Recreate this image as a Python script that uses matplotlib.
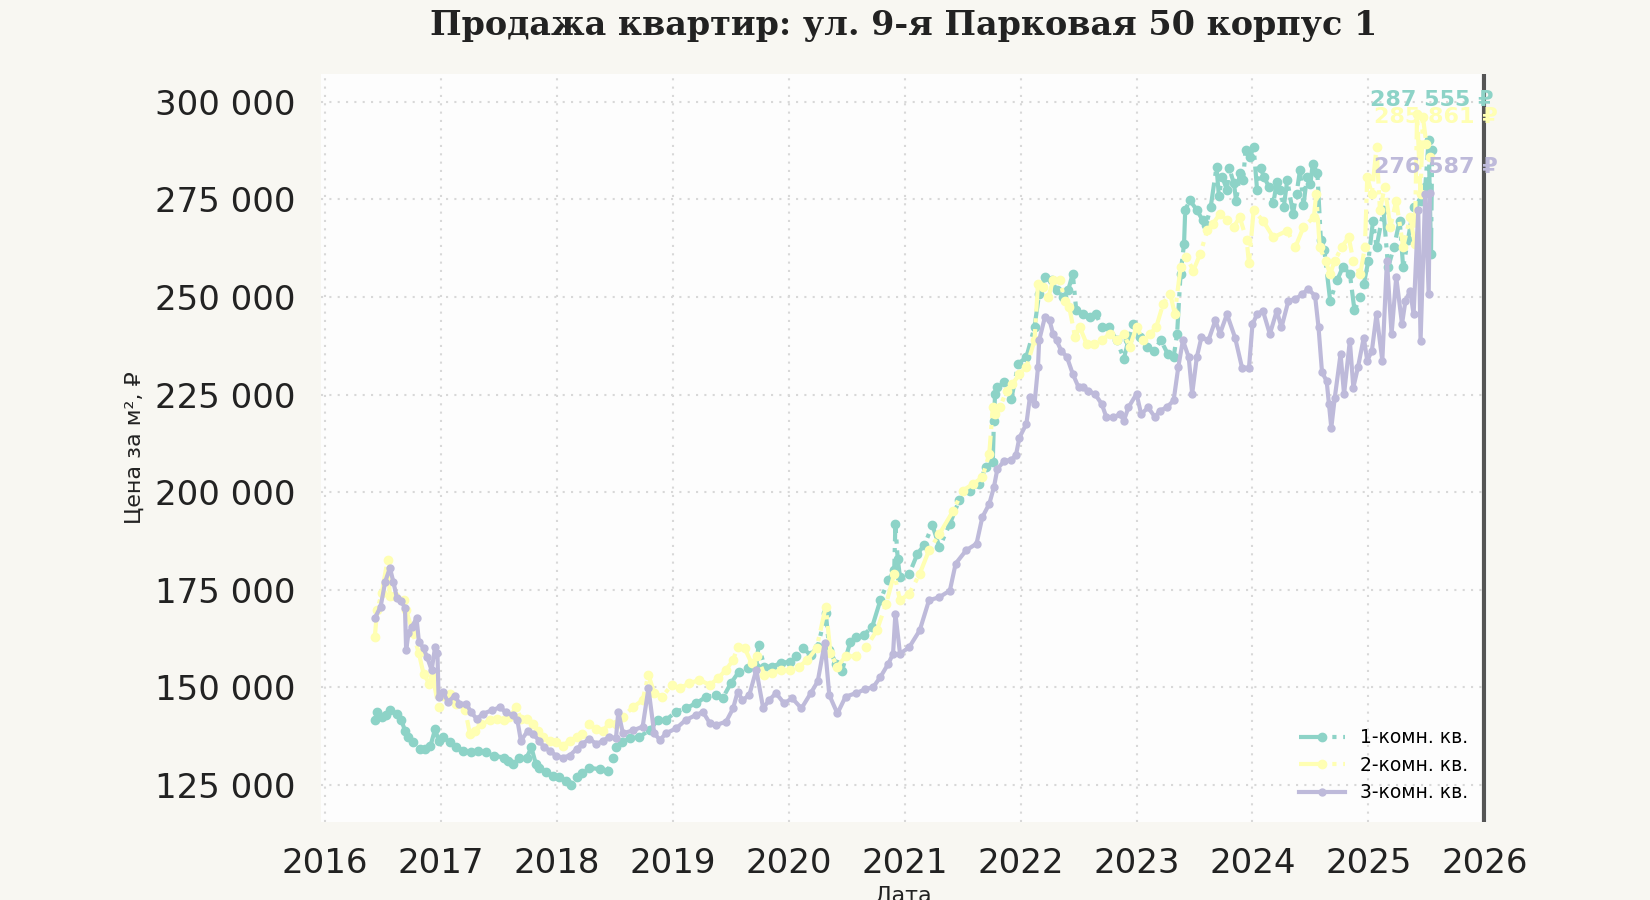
#############################
# import ####################
#############################

import matplotlib
matplotlib.use('Agg')
import matplotlib.pyplot as plt
import numpy as np
from matplotlib.ticker import FuncFormatter

#############################
# data (price, thousand rub) #
#############################

t1 = [2016.43, 2016.45, 2016.49, 2016.53, 2016.56, 2016.62, 2016.66, 2016.69, 2016.72, 2016.76,
      2016.82, 2016.86, 2016.91, 2016.95, 2016.98, 2017.02, 2017.08, 2017.13, 2017.19, 2017.26,
      2017.32, 2017.39, 2017.46, 2017.54, 2017.58, 2017.62, 2017.67, 2017.74, 2017.78, 2017.82,
      2017.85, 2017.91, 2017.97, 2018.02, 2018.08, 2018.12, 2018.17, 2018.22, 2018.28, 2018.37,
      2018.44, 2018.48, 2018.51, 2018.56, 2018.63, 2018.71, 2018.80, 2018.87, 2018.94, 2019.03,
      2019.11, 2019.20, 2019.29, 2019.37, 2019.43, 2019.50, 2019.57, 2019.65, 2019.72, 2019.74,
      2019.79, 2019.86, 2019.93, 2020.01, 2020.06, 2020.12, 2020.19, 2020.25, 2020.32, 2020.35,
      2020.41, 2020.46, 2020.53, 2020.58, 2020.65, 2020.72, 2020.79, 2020.86, 2020.91, 2020.92,
      2020.94, 2020.96, 2021.04, 2021.11, 2021.17, 2021.24, 2021.30, 2021.39, 2021.47, 2021.56,
      2021.64, 2021.70, 2021.76, 2021.77, 2021.78, 2021.80, 2021.86, 2021.92, 2021.98, 2022.05,
      2022.12, 2022.16, 2022.21, 2022.27, 2022.31, 2022.37, 2022.41, 2022.45, 2022.48, 2022.54,
      2022.60, 2022.65, 2022.70, 2022.76, 2022.83, 2022.89, 2022.93, 2022.97, 2023.03, 2023.09,
      2023.15, 2023.21, 2023.27, 2023.32, 2023.35, 2023.38, 2023.41, 2023.42, 2023.46, 2023.52,
      2023.57, 2023.60, 2023.64, 2023.69, 2023.71, 2023.74, 2023.78, 2023.80, 2023.84, 2023.86,
      2023.89, 2023.92, 2023.94, 2023.98, 2024.01, 2024.04, 2024.07, 2024.10, 2024.14, 2024.18,
      2024.21, 2024.24, 2024.27, 2024.30, 2024.35, 2024.38, 2024.41, 2024.44, 2024.47, 2024.50,
      2024.52, 2024.56, 2024.59, 2024.62, 2024.67, 2024.73, 2024.78, 2024.84, 2024.88, 2024.93,
      2024.96, 2025.00, 2025.04, 2025.07, 2025.13, 2025.17, 2025.22, 2025.27, 2025.30, 2025.34,
      2025.39, 2025.45, 2025.49, 2025.52, 2025.54, 2025.55]
p1 = [141.5, 143.6, 142.3, 143.0, 144.1, 143.2, 141.5, 138.9, 137.2, 135.9,
      134.2, 134.2, 135.0, 139.3, 136.3, 137.2, 135.9, 134.6, 133.8, 133.3,
      133.8, 133.3, 132.5, 132.0, 131.0, 130.3, 132.0, 132.0, 134.6, 130.3,
      129.4, 128.2, 127.3, 126.9, 126.0, 125.0, 126.9, 128.0, 129.4, 129.0,
      128.6, 132.0, 134.6, 136.0, 136.9, 137.3, 139.0, 141.6, 141.6, 143.8,
      144.6, 145.9, 147.6, 148.0, 147.2, 151.0, 154.0, 154.9, 155.3, 160.9,
      155.3, 155.3, 156.2, 156.6, 157.9, 160.0, 158.3, 160.4, 169.0, 159.6,
      156.0, 154.3, 161.5, 163.0, 163.5, 165.5, 172.3, 177.4, 180.0, 191.9,
      183.0, 178.2, 179.1, 184.2, 186.5, 191.5, 185.9, 191.9, 197.9, 200.4,
      202.1, 206.4, 207.7, 218.3, 225.2, 226.9, 228.2, 223.9, 232.9, 234.6,
      242.3, 250.9, 255.1, 254.3, 251.7, 250.0, 251.7, 256.0, 246.6, 245.7,
      244.9, 245.7, 242.3, 242.3, 238.9, 234.2, 238.9, 243.2, 239.7, 237.2,
      236.3, 238.9, 235.4, 234.6, 240.6, 256.0, 263.7, 272.3, 274.8, 272.3,
      269.7, 268.5, 273.1, 283.4, 276.0, 280.8, 277.4, 283.0, 279.1, 274.5,
      281.7, 280.0, 287.7, 286.0, 288.5, 277.4, 283.0, 280.8, 278.3, 274.0,
      279.5, 277.4, 273.0, 280.0, 271.4, 276.5, 282.5, 273.5, 280.8, 279.0,
      284.2, 281.7, 264.6, 262.0, 249.1, 254.3, 257.7, 256.0, 246.6, 250.0,
      253.3, 259.3, 269.6, 262.8, 272.2, 257.6, 262.8, 269.6, 257.6, 264.5,
      273.0, 274.7, 278.2, 290.2, 261.1, 287.555]

t2 = [2016.43, 2016.45, 2016.49, 2016.54, 2016.56, 2016.60, 2016.68, 2016.70, 2016.76, 2016.81,
      2016.85, 2016.90, 2016.93, 2016.98, 2017.02, 2017.08, 2017.13, 2017.21, 2017.25, 2017.29,
      2017.35, 2017.42, 2017.48, 2017.54, 2017.59, 2017.65, 2017.69, 2017.74, 2017.79, 2017.84,
      2017.88, 2017.94, 2017.99, 2018.05, 2018.11, 2018.17, 2018.22, 2018.28, 2018.34, 2018.40,
      2018.45, 2018.51, 2018.57, 2018.66, 2018.74, 2018.79, 2018.84, 2018.91, 2018.99, 2019.06,
      2019.14, 2019.23, 2019.32, 2019.39, 2019.46, 2019.52, 2019.56, 2019.62, 2019.68, 2019.73,
      2019.79, 2019.86, 2019.93, 2020.01, 2020.09, 2020.16, 2020.24, 2020.32, 2020.36, 2020.42,
      2020.49, 2020.58, 2020.67, 2020.76, 2020.84, 2020.91, 2020.96, 2021.04, 2021.13, 2021.21,
      2021.30, 2021.42, 2021.50, 2021.59, 2021.67, 2021.73, 2021.76, 2021.78, 2021.82, 2021.88,
      2021.93, 2021.99, 2022.05, 2022.12, 2022.15, 2022.19, 2022.24, 2022.28, 2022.34, 2022.38,
      2022.42, 2022.47, 2022.51, 2022.57, 2022.63, 2022.70, 2022.77, 2022.83, 2022.89, 2022.94,
      2023.00, 2023.06, 2023.12, 2023.17, 2023.23, 2023.29, 2023.33, 2023.38, 2023.43, 2023.49,
      2023.55, 2023.61, 2023.66, 2023.72, 2023.78, 2023.84, 2023.89, 2023.95, 2023.97, 2024.01,
      2024.09, 2024.18, 2024.30, 2024.37, 2024.44, 2024.53, 2024.55, 2024.58, 2024.63, 2024.67,
      2024.71, 2024.77, 2024.83, 2024.87, 2024.93, 2024.97, 2024.99, 2025.03, 2025.07, 2025.10,
      2025.14, 2025.19, 2025.24, 2025.30, 2025.36, 2025.40, 2025.42, 2025.45, 2025.47, 2025.50,
      2025.53]
p2 = [163.0, 169.8, 174.1, 182.7, 173.3, 173.3, 172.4, 169.8, 163.8, 158.7,
      153.5, 150.9, 152.7, 144.9, 147.9, 148.4, 145.8, 144.1, 138.1, 138.9,
      140.6, 141.5, 141.9, 141.5, 142.3, 144.9, 141.9, 141.9, 140.6, 138.9,
      137.2, 136.3, 135.9, 135.0, 136.3, 137.2, 138.1, 140.6, 139.3, 138.9,
      140.8, 140.6, 142.5, 145.0, 146.7, 153.2, 148.5, 147.6, 150.6, 149.7,
      151.0, 151.9, 150.6, 152.3, 154.5, 157.0, 160.4, 160.0, 156.2, 157.9,
      153.2, 153.6, 154.5, 154.5, 155.3, 157.0, 160.0, 170.7, 158.7, 155.3,
      157.9, 158.0, 160.3, 164.6, 171.4, 179.1, 172.3, 174.0, 179.1, 185.1,
      189.3, 195.3, 200.4, 202.1, 203.8, 209.8, 221.8, 220.0, 221.7, 226.0,
      227.7, 230.3, 232.0, 238.9, 253.4, 252.6, 250.0, 254.3, 254.3, 249.1,
      247.4, 239.7, 242.3, 238.0, 238.0, 238.9, 240.6, 238.9, 240.6, 237.2,
      242.3, 238.9, 240.6, 242.3, 248.3, 250.9, 245.7, 257.7, 260.3, 256.8,
      261.1, 267.1, 268.8, 271.4, 269.7, 268.0, 270.5, 264.6, 258.6, 272.2,
      269.6, 265.3, 267.0, 262.8, 267.9, 270.5, 276.5, 262.8, 259.3, 255.9,
      259.3, 262.8, 265.3, 259.3, 255.9, 262.8, 280.7, 276.5, 288.4, 272.2,
      278.2, 268.0, 274.7, 262.8, 270.5, 263.7, 297.0, 276.5, 296.1, 289.3,
      285.861]

t3 = [2016.43, 2016.48, 2016.52, 2016.56, 2016.59, 2016.62, 2016.66, 2016.69, 2016.70, 2016.72,
      2016.75, 2016.79, 2016.81, 2016.85, 2016.88, 2016.92, 2016.95, 2016.97, 2016.98, 2017.02,
      2017.06, 2017.12, 2017.16, 2017.22, 2017.26, 2017.31, 2017.36, 2017.44, 2017.51, 2017.56,
      2017.62, 2017.66, 2017.69, 2017.75, 2017.79, 2017.85, 2017.89, 2017.94, 2017.99, 2018.05,
      2018.11, 2018.17, 2018.22, 2018.28, 2018.34, 2018.40, 2018.45, 2018.51, 2018.53, 2018.57,
      2018.66, 2018.74, 2018.79, 2018.84, 2018.89, 2018.94, 2019.03, 2019.11, 2019.20, 2019.26,
      2019.32, 2019.37, 2019.46, 2019.52, 2019.56, 2019.60, 2019.66, 2019.72, 2019.78, 2019.83,
      2019.89, 2019.96, 2020.03, 2020.11, 2020.19, 2020.25, 2020.31, 2020.35, 2020.42, 2020.49,
      2020.58, 2020.66, 2020.73, 2020.79, 2020.86, 2020.90, 2020.92, 2020.96, 2021.04, 2021.13,
      2021.21, 2021.30, 2021.39, 2021.44, 2021.53, 2021.62, 2021.67, 2021.73, 2021.77, 2021.80,
      2021.86, 2021.92, 2021.96, 2021.99, 2022.05, 2022.08, 2022.12, 2022.15, 2022.16, 2022.21,
      2022.25, 2022.28, 2022.31, 2022.35, 2022.40, 2022.45, 2022.50, 2022.54, 2022.58, 2022.64,
      2022.70, 2022.74, 2022.80, 2022.86, 2022.89, 2022.93, 2023.00, 2023.04, 2023.10, 2023.16,
      2023.20, 2023.26, 2023.32, 2023.36, 2023.40, 2023.45, 2023.48, 2023.52, 2023.56, 2023.62,
      2023.68, 2023.72, 2023.78, 2023.85, 2023.91, 2023.97, 2024.00, 2024.04, 2024.09, 2024.15,
      2024.21, 2024.25, 2024.31, 2024.37, 2024.43, 2024.48, 2024.54, 2024.57, 2024.60, 2024.64,
      2024.66, 2024.68, 2024.71, 2024.76, 2024.79, 2024.84, 2024.87, 2024.91, 2024.96, 2024.99,
      2025.03, 2025.07, 2025.12, 2025.16, 2025.20, 2025.24, 2025.29, 2025.32, 2025.36, 2025.39,
      2025.43, 2025.45, 2025.49, 2025.52, 2025.53]
p3 = [167.7, 170.7, 177.1, 180.6, 177.0, 172.9, 172.0, 170.3, 159.5, 163.8,
      165.5, 167.7, 161.7, 160.0, 157.8, 154.4, 160.4, 158.7, 147.5, 148.8,
      146.2, 147.9, 145.8, 145.8, 143.6, 141.9, 143.2, 144.1, 144.9, 143.6,
      142.8, 141.5, 136.3, 138.9, 138.1, 136.3, 134.6, 133.8, 132.5, 132.0,
      132.5, 134.2, 135.5, 136.8, 135.5, 136.3, 137.3, 137.0, 143.7, 138.2,
      139.0, 139.9, 149.7, 138.2, 136.5, 138.2, 139.5, 141.6, 142.9, 143.7,
      140.8, 140.3, 141.2, 144.6, 148.9, 146.7, 148.0, 154.5, 144.6, 146.7,
      148.5, 145.9, 147.2, 144.6, 148.5, 151.5, 161.3, 148.0, 143.3, 147.6,
      148.5, 149.5, 150.1, 152.6, 156.1, 158.6, 168.9, 158.6, 160.3, 164.6,
      172.3, 173.1, 174.8, 181.7, 185.1, 186.8, 193.6, 197.0, 201.3, 206.0,
      208.0, 208.3, 209.5, 214.0, 217.5, 224.3, 222.6, 232.0, 238.9, 244.9,
      244.0, 240.6, 238.9, 236.3, 234.6, 230.3, 226.9, 226.9, 226.0, 225.2,
      222.6, 219.2, 219.2, 220.0, 218.3, 221.7, 225.2, 220.0, 221.7, 219.2,
      220.9, 221.7, 223.5, 232.0, 238.9, 234.6, 225.2, 234.6, 239.7, 238.9,
      244.0, 240.6, 245.6, 239.6, 231.9, 231.9, 243.0, 245.6, 246.5, 240.5,
      246.5, 242.2, 249.0, 249.5, 250.7, 252.1, 250.3, 242.2, 230.7, 228.5,
      222.5, 216.5, 224.2, 235.4, 225.1, 238.8, 226.8, 232.0, 239.6, 233.7,
      236.2, 245.6, 233.7, 259.3, 240.5, 255.1, 243.1, 249.1, 251.6, 245.6,
      272.2, 238.8, 276.5, 250.8, 276.587]

labels = ['1-комн. кв.', '2-комн. кв.', '3-комн. кв.']
colors = ['#8dd3c7', '#ffffb3', '#bebada']
years = list(range(2016, 2027))
yticks = list(range(125000, 300001, 25000))

#############################
# figure ####################
#############################

plt.rc('font', family='DejaVu Sans')

fig = plt.figure(figsize=(16.5, 9), dpi=100)
fig.patch.set_facecolor('#f8f7f2')
ax = fig.add_axes([0.1945, 0.0867, 0.7065, 0.8313])
ax.set_facecolor('#fdfdfd')

series = [(t1, p1, '-.', 6), (t2, p2, '-.', 6), (t3, p3, '-', 5)]
for (t, p, ls, ms), lab, c in zip(series, labels, colors):
    ax.plot(t, np.array(p) * 1000, linestyle=ls, marker='o', markersize=ms,
            linewidth=3, color=c, label=lab)

# last price labels
label_pos = [(2025.01, 300500), (2025.05, 296200), (2025.05, 283300)]
for (t, p, ls, ms), c, (lx, ly) in zip(series, colors, label_pos):
    txt = '{:,}'.format(int(round(p[-1] * 1000))).replace(',', ' ') + ' ₽'
    ax.text(lx, ly, txt, color=c, fontsize=16, fontweight='bold',
            ha='left', va='center', zorder=5)

ax.axvline(2026, color='#555555', linewidth=3)

ax.set_xlim(2015.965, 2026.02)
ax.set_ylim(115500, 307200)
ax.set_xticks(years)
ax.set_yticks(yticks)
ax.yaxis.set_major_formatter(FuncFormatter(lambda v, pos: '{:,}'.format(int(v)).replace(',', ' ')))
ax.tick_params(axis='both', labelsize=24.5, length=0, pad=18, colors='#222222')

ax.grid(True, linestyle=(0, (1, 3)), color='#d8d8d8', linewidth=1.5)
for s in ax.spines.values():
    s.set_visible(False)

ax.set_xlabel('Дата', fontsize=16, color='#222222', labelpad=4)
ax.set_ylabel('Цена за м², ₽', fontsize=16, color='#222222', labelpad=8)

fig.text(0.5475, 0.972, 'Продажа квартир: ул. 9-я Парковая 50 корпус 1',
         fontsize=24, fontweight='bold', family='DejaVu Serif',
         color='#222222', ha='center', va='center')

ax.legend(loc='lower right', frameon=False, fontsize=13.5, handlelength=2.5,
          labelspacing=0.45, bbox_to_anchor=(0.999, 0.004))

plt.savefig('out.png', dpi=100, facecolor=fig.get_facecolor())
